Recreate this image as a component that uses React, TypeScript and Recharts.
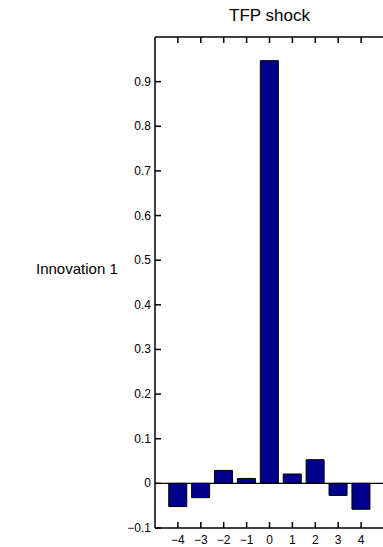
import { BarChart, Bar, XAxis, YAxis, ReferenceLine } from "recharts";

const lags = [-4, -3, -2, -1, 0, 1, 2, 3, 4];
const response = [-0.052, -0.032, 0.029, 0.011, 0.947, 0.021, 0.053, -0.027, -0.058];
const yTicks = [-0.1, 0, 0.1, 0.2, 0.3, 0.4, 0.5, 0.6, 0.7, 0.8, 0.9];
const xDomain = [-5, 5];
const yDomain = [-0.1, 1];

const data = lags.map((x, i) => ({ x, v: response[i] }));

const FONT = "'Liberation Sans', Arial, Helvetica, sans-serif";
const minus = (s: string) => s.replace("-", "\u2212");
const fmtY = (v: number) => minus(String(Number(v.toFixed(1))));
const SW = 1.5;
const TICK_FS = 12;

const LeftTick = (p: any) => (
  <g>
    <path d={`M${p.x},${p.y}H${p.x + 6}`} stroke="#000" strokeWidth={SW} fill="none" />
    <text x={p.x - 4} y={p.y + 4} textAnchor="end" fontSize={TICK_FS} fontFamily={FONT} fill="#000">
      {fmtY(p.payload.value)}
    </text>
  </g>
);
const RightTick = (p: any) => (
  <path d={`M${p.x},${p.y}H${p.x - 6}`} stroke="#000" strokeWidth={SW} fill="none" />
);
const BottomTick = (p: any) => (
  <g>
    <path d={`M${p.x},${p.y}V${p.y - 6}`} stroke="#000" strokeWidth={SW} fill="none" />
    <text x={p.x} y={p.y + 16} textAnchor="middle" fontSize={TICK_FS} fontFamily={FONT} fill="#000">
      {minus(String(p.payload.value))}
    </text>
  </g>
);
const TopTick = (p: any) => (
  <path d={`M${p.x},${p.y}V${p.y + 6}`} stroke="#000" strokeWidth={SW} fill="none" />
);

export default function App() {
  return (
    <div style={{ position: "absolute", left: 0, top: 0, width: 383, height: 547, overflow: "hidden", background: "#fff", fontFamily: FONT }}>
      <div style={{ position: "absolute", left: 155, width: 229, top: 6, textAlign: "center", fontSize: 17 }}>
        TFP shock
      </div>
      <div style={{ position: "absolute", left: 36, top: 260, fontSize: 15, whiteSpace: "nowrap" }}>
        Innovation 1
      </div>
      <BarChart
        width={386}
        height={547}
        data={data}
        margin={{ top: 36, right: 1, bottom: 0, left: 0 }}
        barCategoryGap="10%"
      >
        <XAxis
          xAxisId="b"
          type="number"
          dataKey="x"
          domain={xDomain}
          ticks={lags}
          height={19}
          tickSize={0}
          tickMargin={0}
          tickLine={false}
          axisLine={{ stroke: "#000", strokeWidth: SW }}
          tick={<BottomTick />}
          interval={0}
        />
        <XAxis
          xAxisId="t"
          orientation="top"
          type="number"
          dataKey="x"
          domain={xDomain}
          ticks={lags}
          height={1}
          tickSize={0}
          tickMargin={0}
          tickLine={false}
          axisLine={false}
          tick={<TopTick />}
          interval={0}
        />
        <YAxis
          yAxisId="l"
          type="number"
          domain={yDomain}
          ticks={yTicks}
          width={155}
          tickSize={0}
          tickMargin={0}
          tickLine={false}
          axisLine={{ stroke: "#000", strokeWidth: SW }}
          tick={<LeftTick />}
          interval={0}
        />
        <YAxis
          yAxisId="r"
          orientation="right"
          type="number"
          domain={yDomain}
          ticks={yTicks}
          width={1}
          tickSize={0}
          tickMargin={0}
          tickLine={false}
          axisLine={false}
          tick={<RightTick />}
          interval={0}
        />
        <Bar
          xAxisId="b"
          yAxisId="l"
          dataKey="v"
          fill="#00008B"
          stroke="#000"
          strokeWidth={1}
          isAnimationActive={false}
        />
        <ReferenceLine xAxisId="b" yAxisId="l" y={0} stroke="#000" strokeWidth={1.2} />
        <ReferenceLine xAxisId="b" yAxisId="l" y={yDomain[1]} stroke="#000" strokeWidth={SW} ifOverflow="visible" />
      </BarChart>
    </div>
  );
}
